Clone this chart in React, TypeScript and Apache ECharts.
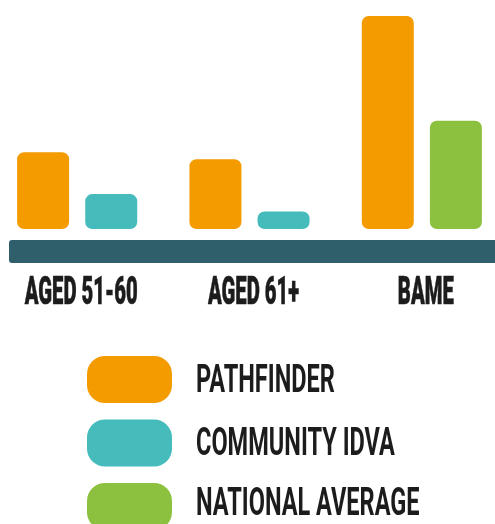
import React, { useEffect, useRef } from "react";
import * as echarts from "echarts";

const categories = ["AGED 51-60", "AGED 61+", "BAME"];
const pathfinder = [22, 20, 61];
const communityIdva: (number | null)[] = [10, 5, null];
const nationalAverage: (number | null)[] = [null, null, 31];
const legendNames = ["PATHFINDER", "COMMUNITY IDVA", "NATIONAL AVERAGE"];
const colors = ["#F49B00", "#45BBBC", "#8CC03F"];
const BAND = "#2F5F6A";
const INK = "#1C1C1C";

const OX = 9;
const W = 517;

function fit(texts: string[], weight: string | number, capH: number, width: number | null) {
  const ctx = document.createElement("canvas").getContext("2d")!;
  ctx.font = `${weight} 100px Roboto`;
  const capA = ctx.measureText("H").actualBoundingBoxAscent || 71;
  const fontSize = (100 * capH) / capA;
  ctx.font = `${weight} ${fontSize}px Roboto`;
  const m = ctx.measureText(texts[0]);
  const capA2 = ctx.measureText("H").actualBoundingBoxAscent || 0.71 * fontSize;
  const fba = (m as any).fontBoundingBoxAscent ?? 0.928 * fontSize;
  const fbd = (m as any).fontBoundingBoxDescent ?? 0.244 * fontSize;
  const dy = capA2 / 2 - (fba - fbd) / 2;
  const total = texts.reduce((s, t) => s + ctx.measureText(t).width, 0);
  const scaleX = width ? width / total : 1;
  return { fontSize, scaleX, dy };
}

export default function App() {
  const ref = useRef<HTMLDivElement>(null);
  useEffect(() => {
    document.body.style.margin = "0";
    document.body.style.overflow = "hidden";
    document.documentElement.style.overflow = "hidden";
    const chart = echarts.init(ref.current!, null, { renderer: "svg" });
    const barBase = { type: "bar" as const, barWidth: 52, barGap: "31%" };
    chart.setOption({
      animation: false,
      grid: { left: 0, right: 0, top: 2, bottom: 295 },
      xAxis: {
        type: "category",
        data: categories,
        axisLine: { show: false },
        axisTick: { show: false },
        axisLabel: { show: false },
      },
      yAxis: { type: "value", min: 0, max: 65, show: false, splitLine: { show: false } },
      series: [
        { ...barBase, name: "Pathfinder", data: pathfinder, itemStyle: { color: colors[0], borderRadius: 7 } },
        { ...barBase, name: "Community IDVA", stack: "cmp", data: communityIdva, itemStyle: { color: colors[1], borderRadius: 7 } },
        { ...barBase, name: "National Average", stack: "cmp", data: nationalAverage, itemStyle: { color: colors[2], borderRadius: 7 } },
      ],
    });
    const graphics: any[] = [
      {
        type: "rect",
        shape: { x: 9 + OX, y: 240, width: 510, height: 23, r: [3, 0, 0, 3] },
        style: { fill: BAND },
      },
    ];
    const axisFit = fit(categories, 900, 28, 111 + 95 + 54);
    categories.forEach((c) => {
      const px = chart.convertToPixel({ xAxisIndex: 0 }, c) as number;
      graphics.push({
        type: "text",
        x: px + 4,
        y: 290 + axisFit.dy,
        scaleX: axisFit.scaleX,
        style: {
          text: c,
          fontFamily: "Roboto",
          fontWeight: 900,
          fontSize: axisFit.fontSize,
          fill: INK,
          stroke: INK,
          lineWidth: 0.6,
          align: "center",
          verticalAlign: "middle",
        },
      });
    });
    const legFit = fit(legendNames, "bold", 27.5, 137 + 202 + 222);
    const textCentres = [378, 441.5, 501];
    legendNames.forEach((n, i) => {
      const y = 356 + i * 63.5;
      graphics.push({
        type: "rect",
        shape: { x: 87 + OX, y, width: 85, height: 47, r: 18 },
        style: { fill: colors[i] },
      });
      graphics.push({
        type: "text",
        x: 196 + OX,
        y: textCentres[i] + legFit.dy,
        scaleX: legFit.scaleX,
        style: {
          text: n,
          fontFamily: "Roboto",
          fontWeight: "bold",
          fontSize: legFit.fontSize,
          fill: INK,
          align: "left",
          verticalAlign: "middle",
        },
      });
    });
    chart.setOption({ graphic: graphics });
    return () => chart.dispose();
  }, []);
  return <div ref={ref} style={{ position: "fixed", left: -OX, top: 0, width: W, height: 524 }} />;
}
